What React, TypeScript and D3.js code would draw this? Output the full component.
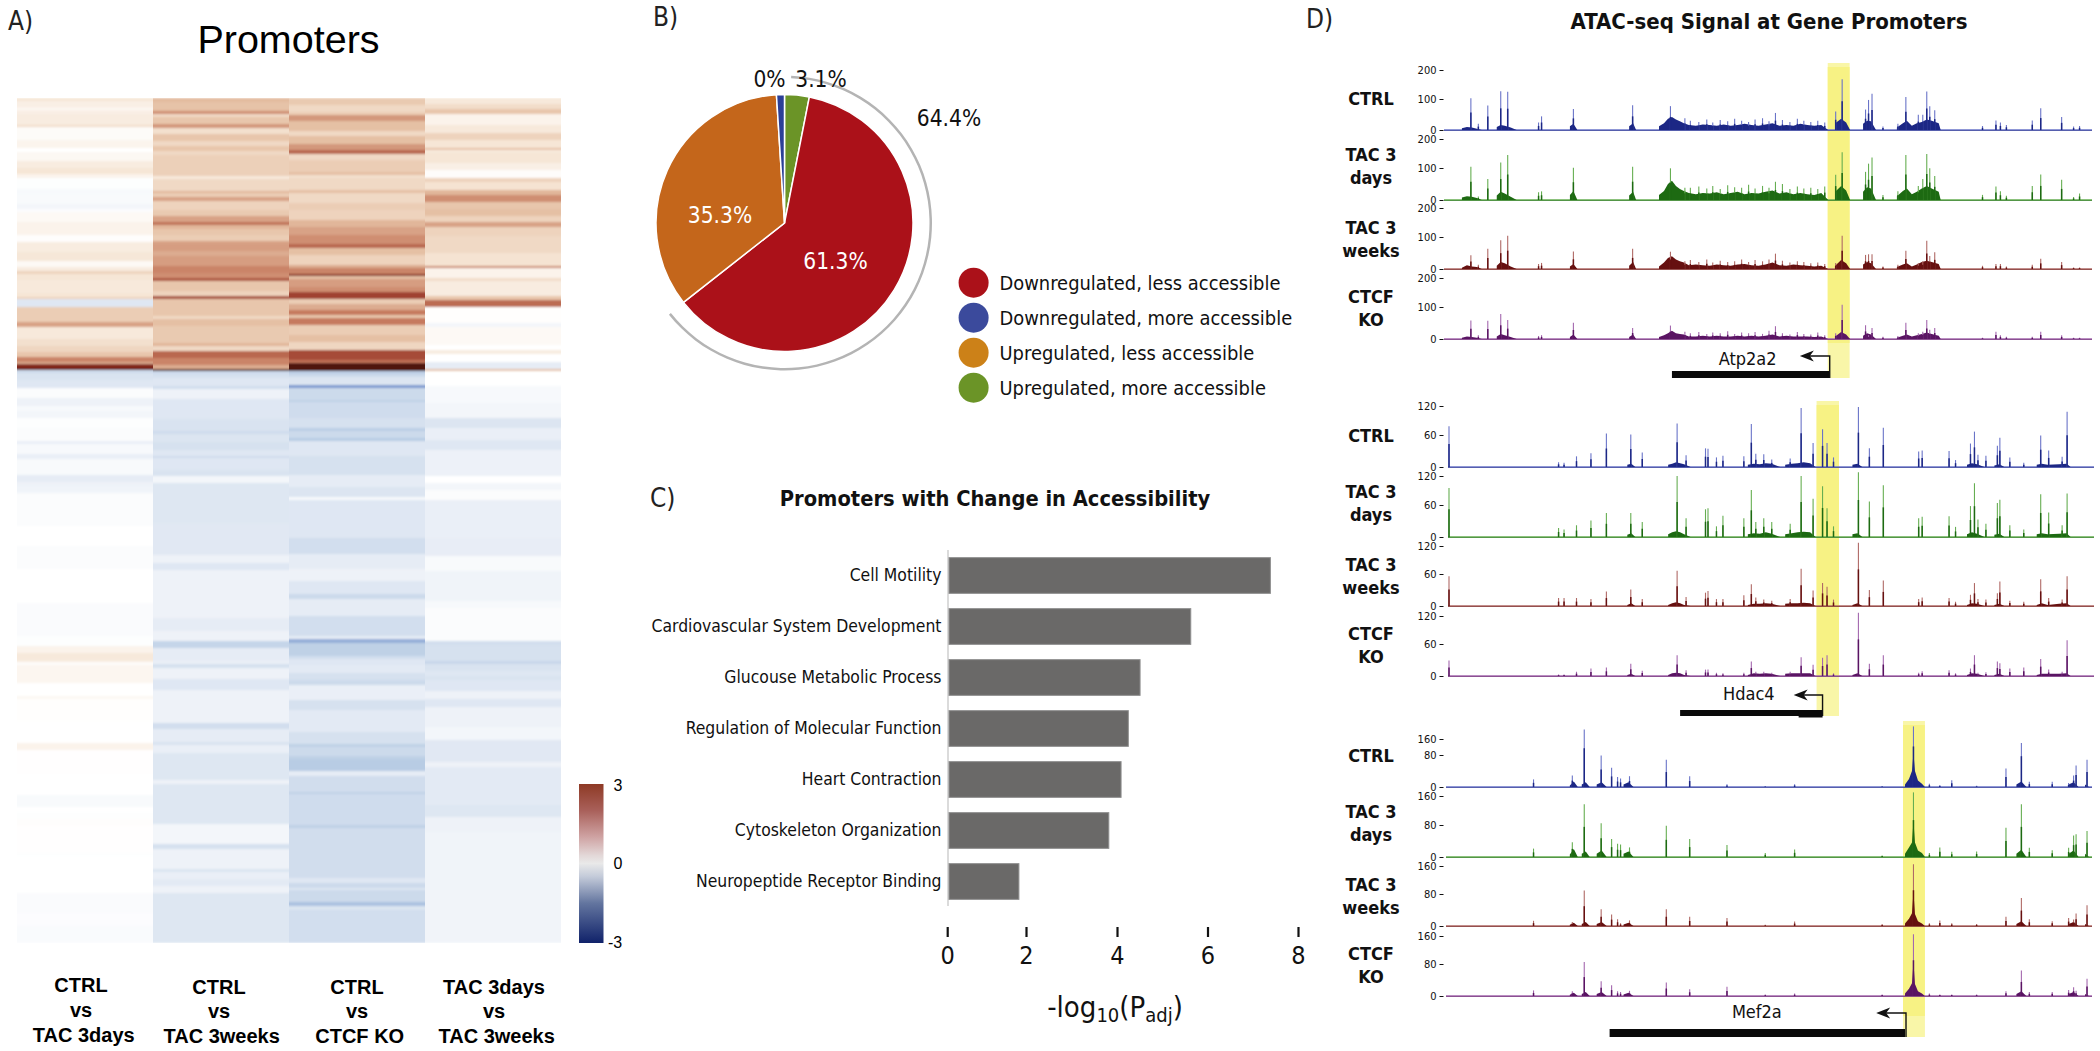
import React, { useEffect, useRef } from 'react';
import * as d3 from 'd3';

// Panel A: heatmap columns, each as runs of [row count, log2 fold change]
const heatLabels = [
  ['CTRL', 'vs', 'TAC 3days'],
  ['CTRL', 'vs', 'TAC 3weeks'],
  ['CTRL', 'vs', 'CTCF KO'],
  ['TAC 3days', 'vs', 'TAC 3weeks'],
];
const heatCtrlTac3d = [
  [3, .4], [7, .25], [2, .1], [4, .25], [11, .3], [2, .55], [13, .07], [8, .18], [4, 0], [9, .12], [7, .3], [6, .4], [4, .2], [11, -.02], [5, -.1], [10, -.08], [5, -.15], [3, -.04], [10, .1], [13, .2],
  [7, .03], [10, .3], [9, .38], [6, .1], [4, .3], [3, .7], [6, .4], [13, .35], [4, .4], [2, .7], [8, -.4], [15, .8], [5, 1.3], [12, .35], [7, .5], [6, .65], [5, .9], [5, 1.6], [2, 1.2], [4, 2.6], [2, 2.8],
  [3, -.7], [7, -.5], [8, -.4], [10, -.05], [8, -.2], [5, -.1], [7, -.15], [10, -.02], [13, -.05], [3, -.25], [10, -.1], [5, -.25], [16, -.08], [7, -.3], [4, -.2], [7, -.18], [33, -.05], [10, 0], [10, 0], [23, -.05], [17, 0], [17, 0], [33, -.06], [10, -.02], [7, .2], [7, .35],
  [2, .3], [3, .05], [18, .15], [13, 0], [3, .12], [22, .02], [22, 0], [7, .2], [25, .01], [20, 0], [12, -.08], [5, 0], [7, -.02], [7, .03], [27, .01], [3, -.02], [17, 0], [20, 0], [20, -.06], [13, -.04], [17, -.07],
];
const heatCtrlTac3w = [
  [4, 1.05], [7, .95], [2, 1], [3, 1.5], [3, .6], [7, .9], [4, 1.4], [6, .5], [7, .9], [5, .6], [5, .9], [4, .6], [21, .75], [3, .35], [12, .6], [2, 1.1], [4, .8], [4, 1.3], [9, .7], [6, .85], [6, 1.3], [3, 1.8], [4, 1.1], [6, .9],
  [5, .8], [3, 1.3], [7, 1.35], [5, 1.2], [10, 1.35], [7, 1.6], [5, 1.5], [3, 2.1], [10, .9], [5, .7], [3, 2.2], [5, .9], [12, .9], [3, .6], [7, 1], [17, .85], [3, 1.1], [5, .6], [7, 1.9], [7, 1.6], [4, 1.2], [2, 3],
  [3, -.7], [4, -.55], [8, -.4], [3, -.6], [10, -.2], [20, -.4], [12, -.5], [3, -.65], [8, -.45], [8, -.55], [6, -.4], [2, -.65], [12, -.4], [6, -.5], [7, -.15], [17, -.42], [22, -.42], [32, -.38], [8, -.2], [7, -.4], [8, -.2], [40, -.2], [13, -.3], [10, -.2], [7, -.8], [13, -.3],
  [3, -.25], [4, -.55], [11, -.2], [11, -.4], [33, -.2], [6, -.6], [13, -.3], [3, -.5], [8, -.25], [27, -.42], [4, -.2], [39, -.42], [20, -.15], [5, -.55], [20, -.2], [3, -.45], [7, -.25], [7, -.35], [7, -.2], [50, -.42],
];
const heatCtrlKo = [
  [7, .85], [7, .6], [3, .8], [6, 1.4], [10, 1], [5, .6], [8, 1], [6, 1.4], [4, 1.9], [6, .6], [12, .8], [3, 1], [3, .5], [12, .6], [3, 1], [10, .6], [7, .8], [10, .7], [7, 1.1], [8, 1.3],
  [8, 1.5], [4, 1.9], [7, 1], [10, .7], [3, 1.2], [6, 1.6], [2, 2.6], [3, 1], [8, 1.35], [5, 1.5], [7, 2.3], [5, .8], [6, 1.2], [5, 1.7], [3, .9], [7, 1.7], [10, .8], [7, 1], [8, .65], [10, 2.2], [3, 1.8], [8, 3],
  [3, -.95], [3, -.7], [8, -.45], [3, -1.5], [12, -.7], [2, -.9], [16, -.65], [10, -.55], [3, -.95], [7, -.7], [3, -1], [15, -.4], [19, -.55], [12, -.3], [10, -.45], [3, -.1], [37, -.4], [8, -.6], [8, -.6], [15, -.3], [12, -.2], [13, -.4], [5, -.7], [17, -.3], [20, -.6], [3, -.3], [4, -1.3], [13, -.9], [3, -.6],
  [6, -.4], [8, -.35], [7, -.55], [5, -.7], [15, -.25], [10, -.55], [22, -.35], [12, -.55], [3, -.9], [9, -.7], [3, -.9], [12, -1], [5, -.3], [16, -.62], [2, -.9], [13, -.65], [17, -.65], [3, -.9], [50, -.62], [5, -.4], [5, -.7], [2, -.4], [12, -.7], [4, -1.1], [4, -.45], [14, -.6], [19, -.6],
];
const heatTac3dTac3w = [
  [6, .35], [5, .55], [5, .9], [11, .2], [8, .35], [7, .7], [8, .4], [2, 1], [2, .3], [11, .4], [7, .25], [8, .05], [4, .7], [8, .45], [5, 1.1], [7, 1.5], [7, .9], [7, 1], [6, .7], [5, 1.3], [9, .7],
  [4, .6], [13, .6], [13, .45], [2, 1.6], [10, .2], [3, .55], [15, .3], [4, .9], [7, 1.85], [16, .02], [4, -.15], [18, .1], [5, 0], [4, .3], [8, 0], [7, -.3], [2, 1],
  [15, 0], [17, -.1], [15, -.15], [10, -.45], [12, -.25], [10, -.4], [26, -.22], [7, 0], [7, -.15], [10, -.05], [37, -.25], [18, -.28], [15, -.08], [30, -.18], [7, -.1], [33, -.05], [4, -.6], [16, -.55],
  [3, -.75], [7, -.5], [5, -.4], [4, -.5], [11, -.4], [8, -.2], [8, -.4], [20, -.2], [13, -.15], [22, -.38], [5, -.2], [38, -.35], [12, -.42], [15, -.2], [57, -.18], [54, -.17],
];
const heatColumns = [heatCtrlTac3d, heatCtrlTac3w, heatCtrlKo, heatTac3dTac3w];
const heatStops = [-3, -1.6, -1, -.3, 0, .4, 1, 1.7, 2.5, 3];
const heatColors = ['#0d2168', '#6f8fcb', '#b8cce4', '#e6ecf5', '#ffffff', '#f6e6d6', '#e5c0a4', '#c67a5e', '#933120', '#4f1710'];
const legendTicks = [3, 0, -3];
const legendStops = [3, 2, 1, .3, 0, -.5, -1.5, -3];
const legendColors = ['#8e3a25', '#a9605a', '#cfa3a3', '#e3d8d8', '#e9e9e9', '#c3cad9', '#63759f', '#10226a'];

// Panel B
const pieNames = ['Upregulated, more accessible', 'Downregulated, less accessible', 'Upregulated, less accessible', 'Downregulated, more accessible'];
const pieDrawn = [3.1, 61.3, 34.6, 1];
const pieColors = ['#6b9427', '#ab1119', '#c4661b', '#2b3f96'];
const legendNames = ['Downregulated, less accessible', 'Downregulated, more accessible', 'Upregulated, less accessible', 'Upregulated, more accessible'];
const legendDots = ['#ab1119', '#3b4a9c', '#cc8118', '#6b9427'];
const downTotal = 64.4;

// Panel C
const terms = ['Cell Motility', 'Cardiovascular System Development', 'Glucouse Metabolic Process', 'Regulation of Molecular Function', 'Heart Contraction', 'Cytoskeleton Organization', 'Neuropeptide Receptor Binding'];
const termValues = [7.39, 5.63, 4.51, 4.25, 4.09, 3.82, 1.82];
const termTicks = [0, 2, 4, 6, 8];

// Panel D: peak positions and heights, one height list per condition
const trackNames = [['CTRL'], ['TAC 3', 'days'], ['TAC 3', 'weeks'], ['CTCF', 'KO']];
const trackNameLift = [25, 39, 35, 36];
const trackDark = ['#1c2785', '#1d6a12', '#661010', '#5a1463'];
const trackLight = ['#6a74c8', '#66ae52', '#b06a66', '#a468ae'];

const atpPos = [304, 319, 338, 364, 378, 440, 446, 510, 629, 705, 734, 916, 1037, 1050, 1097, 1103, 1110, 1132, 1162, 1178, 1203, 1212, 1220, 1226, 1236, 1332, 1359, 1368, 1380, 1432, 1449, 1491, 1515, 1527, 745, 762, 778, 790, 805, 820, 834, 848, 862, 875, 890, 903, 930, 945, 960, 973, 987, 1001, 1015];
const atpCtrl = [103, 20, 79, 127, 125, 24, 44, 68, 80, 77, 38, 55, 60, 168, 66, 97, 118, 11, 20, 107, 49, 49, 126, 77, 64, 13, 31, 24, 16, 31, 70, 42, 11, 13, 30, 26, 34, 24, 32, 28, 36, 30, 26, 34, 38, 28, 32, 26, 36, 30, 26, 30, 24];
const atpTac3d = [104, 11, 66, 119, 145, 24, 27, 101, 104, 99, 38, 57, 79, 154, 88, 115, 136, 16, 27, 145, 44, 66, 148, 99, 75, 16, 42, 27, 13, 44, 80, 63, 9, 20, 38, 42, 36, 44, 34, 46, 40, 38, 48, 36, 44, 38, 50, 34, 42, 36, 38, 34, 42];
const atpTac3w = [43, 13, 63, 90, 104, 16, 19, 55, 63, 54, 24, 48, 19, 104, 44, 46, 46, 8, 13, 57, 19, 24, 88, 41, 52, 10, 16, 16, 8, 13, 32, 22, 5, 5, 28, 22, 30, 20, 26, 22, 24, 30, 22, 28, 24, 30, 26, 20, 24, 22, 18, 20, 16];
const atpKo = [58, 12, 57, 78, 59, 9, 12, 51, 34, 42, 23, 40, 18, 108, 43, 12, 34, 7, 9, 51, 18, 23, 59, 29, 34, 4, 23, 12, 7, 7, 23, 12, 4, 4, 18, 22, 16, 20, 18, 24, 16, 20, 18, 22, 16, 26, 18, 14, 22, 16, 14, 20, 12];
const atpMoundPos = [286, 296, 306, 316, 326, 356, 364, 372, 384, 396, 503, 510, 518, 622, 630, 636, 682, 692, 700, 708, 716, 724, 732, 742, 756, 770, 784, 798, 812, 826, 840, 854, 868, 882, 896, 910, 924, 938, 952, 966, 980, 994, 1008, 1022, 1036, 1048, 1058, 1066, 1092, 1100, 1108, 1118, 1160, 1172, 1180, 1190, 1200, 1210, 1220, 1230, 1244, 1248];
const atpMoundCtrl = [6, 10, 8, 4, 0, 10, 16, 14, 8, 0, 12, 20, 0, 12, 22, 0, 12, 22, 36, 42, 34, 28, 22, 16, 14, 18, 16, 14, 18, 14, 16, 20, 16, 14, 18, 22, 14, 16, 14, 20, 16, 14, 16, 0, 22, 36, 24, 0, 20, 30, 28, 0, 8, 22, 30, 14, 22, 26, 34, 30, 22, 0];
const atpMoundTac3d = [8, 12, 10, 6, 0, 14, 26, 20, 10, 0, 16, 28, 0, 14, 26, 0, 16, 28, 50, 60, 44, 34, 28, 22, 18, 22, 20, 24, 18, 22, 26, 18, 22, 20, 26, 30, 20, 24, 18, 22, 18, 16, 22, 0, 26, 44, 30, 0, 26, 40, 36, 0, 12, 28, 36, 18, 26, 36, 44, 36, 26, 0];
const atpMoundTac3w = [4, 12, 8, 6, 0, 10, 22, 18, 8, 0, 8, 16, 0, 10, 22, 0, 8, 20, 34, 40, 30, 24, 20, 12, 14, 12, 10, 14, 12, 10, 14, 16, 12, 10, 14, 20, 12, 10, 14, 12, 10, 8, 10, 0, 10, 28, 18, 0, 14, 22, 18, 0, 6, 14, 18, 8, 14, 22, 26, 22, 16, 0];
const atpMoundKo = [4, 8, 6, 4, 0, 8, 16, 12, 6, 0, 6, 14, 0, 6, 14, 0, 6, 12, 18, 26, 18, 16, 14, 8, 8, 10, 8, 10, 8, 8, 10, 8, 10, 8, 10, 14, 8, 10, 8, 8, 8, 6, 8, 0, 8, 22, 14, 0, 10, 18, 14, 0, 4, 10, 14, 8, 12, 16, 20, 16, 10, 0];

const hdacPos = [260, 480, 491, 516, 545, 576, 625, 648, 718, 736, 775, 780, 797, 810, 852, 867, 876, 892, 908, 945, 967, 991, 1010, 1019, 1032, 1082, 1104, 1132, 1203, 1210, 1264, 1277, 1307, 1315, 1322, 1338, 1361, 1366, 1386, 1414, 1448, 1464, 1491, 1501];
const hdacCtrl = [78, 9, 8, 20, 26, 63, 61, 27, 84, 22, 35, 34, 18, 21, 20, 83, 25, 24, 14, 16, 116, 45, 72, 45, 18, 118, 35, 75, 29, 31, 30, 13, 44, 67, 23, 21, 40, 55, 18, 8, 59, 31, 19, 108];
const hdacTac3d = [95, 17, 14, 22, 31, 45, 45, 28, 120, 35, 52, 54, 20, 40, 35, 91, 28, 35, 28, 25, 120, 73, 99, 54, 20, 128, 67, 101, 35, 38, 39, 19, 58, 105, 33, 25, 64, 71, 22, 14, 82, 46, 22, 84];
const hdacTac3w = [56, 15, 15, 15, 13, 27, 31, 13, 67, 17, 25, 28, 13, 13, 20, 41, 16, 12, 10, 13, 71, 29, 43, 36, 12, 127, 30, 48, 13, 16, 15, 8, 21, 43, 13, 12, 24, 46, 10, 8, 50, 15, 12, 56];
const hdacKo = [29, 3, 3, 8, 14, 16, 23, 10, 39, 11, 12, 12, 6, 5, 6, 27, 8, 8, 6, 8, 35, 21, 34, 39, 5, 127, 23, 39, 6, 9, 11, 5, 14, 39, 6, 7, 27, 24, 14, 16, 32, 12, 8, 68];
const hdacMoundPos = [618, 626, 634, 700, 708, 716, 724, 732, 745, 860, 872, 884, 896, 908, 925, 935, 948, 960, 972, 985, 996, 1070, 1080, 1090, 1300, 1310, 1320, 1335, 1355, 1365, 1375, 1440, 1450, 1462, 1485, 1500, 1508];
const hdacMoundCtrl = [4, 6, 0, 4, 6, 9, 7, 5, 0, 4, 6, 5, 7, 6, 0, 4, 6, 7, 9, 7, 0, 4, 6, 0, 4, 7, 5, 0, 3, 5, 0, 4, 6, 4, 5, 6, 0];
const hdacMoundTac3d = [4, 7, 0, 5, 9, 11, 9, 5, 0, 5, 7, 6, 9, 6, 0, 5, 7, 9, 10, 9, 0, 5, 7, 0, 5, 9, 6, 0, 4, 6, 0, 5, 7, 5, 6, 7, 0];
const hdacMoundTac3w = [2, 5, 0, 2, 5, 7, 5, 2, 0, 2, 4, 4, 5, 4, 0, 4, 5, 5, 6, 5, 0, 2, 5, 0, 2, 5, 4, 0, 2, 4, 0, 2, 5, 2, 4, 5, 0];
const hdacMoundKo = [2, 4, 0, 2, 5, 6, 5, 2, 0, 2, 5, 4, 5, 4, 0, 4, 5, 5, 5, 5, 0, 2, 5, 0, 2, 5, 4, 0, 2, 4, 0, 2, 4, 4, 4, 5, 0];

const mefPos = [429, 507, 531, 565, 586, 598, 604, 622, 696, 743, 818, 895, 954, 1130, 1193, 1225, 1246, 1270, 1320, 1379, 1410, 1426, 1472, 1505, 1515, 1520, 1542];
const mefCtrl = [19, 29, 207, 79, 48, 25, 21, 27, 68, 27, 7, 2, 7, 2, 223, 8, 5, 17, 3, 46, 140, 13, 13, 10, 29, 54, 68];
const mefTac3d = [21, 37, 137, 85, 45, 33, 31, 24, 78, 45, 30, 10, 19, 4, 170, 10, 24, 13, 14, 73, 137, 23, 17, 23, 54, 57, 65];
const mefTac3w = [13, 10, 90, 42, 29, 17, 7, 14, 42, 23, 20, 3, 11, 5, 165, 7, 14, 7, 5, 23, 70, 17, 12, 20, 16, 31, 52];
const mefKo = [14, 12, 86, 37, 27, 12, 10, 13, 34, 17, 23, 4, 6, 4, 165, 6, 4, 4, 4, 12, 64, 10, 10, 15, 22, 13, 43];
const mefMoundPos = [502, 510, 518, 526, 534, 542, 556, 566, 576, 610, 620, 630, 1176, 1184, 1190, 1193, 1196, 1202, 1210, 1216, 1400, 1410, 1420, 1505, 1515, 1525, 1538, 1546];
const mefMoundCtrl = [4, 14, 0, 6, 12, 0, 6, 12, 0, 6, 12, 0, 6, 20, 40, 90, 40, 16, 8, 0, 6, 14, 0, 6, 12, 0, 6, 0];
const mefMoundTac3d = [6, 20, 0, 8, 14, 0, 8, 16, 0, 8, 14, 0, 8, 24, 36, 90, 36, 16, 10, 0, 8, 18, 0, 8, 16, 0, 8, 0];
const mefMoundTac3w = [3, 8, 0, 5, 10, 0, 5, 10, 0, 4, 8, 0, 6, 18, 32, 85, 30, 12, 6, 0, 5, 12, 0, 5, 10, 0, 5, 0];
const mefMoundKo = [3, 8, 0, 5, 10, 0, 5, 10, 0, 4, 8, 0, 6, 18, 32, 85, 30, 12, 6, 0, 5, 12, 0, 5, 10, 0, 5, 0];

const genes = [
  {
    name: 'Atp2a2', pos: atpPos, peaks: [atpCtrl, atpTac3d, atpTac3w, atpKo],
    moundPos: atpMoundPos, mounds: [atpMoundCtrl, atpMoundTac3d, atpMoundTac3w, atpMoundKo],
    domain: [250, 1552], range: [1444, 2092], ticks: [0, 100, 200], bases: [130, 200, 269, 339],
    tickPx: [[0, 31, 60], [0, 32, 61], [0, 32, 61], [0, 32, 61]],
    band: [1021, 1065], bandY: [63, 343, 378], body: [708, 1025], bodyY: [371, 378], tss: 1025, arrowTo: 965, arrowY: 356,
    labelPos: 860, labelY: 365,
  },
  {
    name: 'Hdac4', pos: hdacPos, peaks: [hdacCtrl, hdacTac3d, hdacTac3w, hdacKo],
    moundPos: hdacMoundPos, mounds: [hdacMoundCtrl, hdacMoundTac3d, hdacMoundTac3w, hdacMoundKo],
    domain: [258, 1555], range: [1448, 2094], ticks: [0, 60, 120], bases: [467, 537, 606, 676],
    tickPx: [[0, 32, 61], [0, 32, 61], [0, 32, 60], [0, 32, 60]],
    band: [998, 1043], bandY: [401, 676, 716], body: [724, 1010], bodyY: [710, 716], thick: [962, 1010], tss: 1010, arrowTo: 952, arrowY: 695,
    labelPos: 862, labelY: 700,
  },
  {
    name: 'Mef2a', pos: mefPos, peaks: [mefCtrl, mefTac3d, mefTac3w, mefKo],
    moundPos: mefMoundPos, mounds: [mefMoundCtrl, mefMoundTac3d, mefMoundTac3w, mefMoundKo],
    domain: [253, 1552], range: [1446, 2092], ticks: [0, 80, 160], bases: [787, 857, 926, 996],
    tickPx: [[0, 32, 48], [0, 32, 61], [0, 32, 60], [0, 32, 60]],
    band: [1172, 1216], bandY: [721, 1016, 1037], body: [582, 1176], bodyY: [1029, 1037], tss: 1178, arrowTo: 1118, arrowY: 1013,
    labelPos: 878, labelY: 1018,
  },
];

const sansFont = "'DejaVu Sans Condensed', 'DejaVu Sans', sans-serif";
const arialFont = "'Liberation Sans', Arial, sans-serif";

function drawHeatmap(svg) {
  const x = d3.scaleBand().domain(d3.range(4)).range([17, 561]);
  const color = d3.scaleLinear().domain(heatStops).range(heatColors).clamp(true);

  // the stripes in the figure are soft, so blur along y only
  const defs = svg.append('defs');
  defs.append('filter').attr('id', 'heatSoft')
    .attr('filterUnits', 'userSpaceOnUse')
    .attr('x', 0).attr('y', 90).attr('width', 600).attr('height', 860)
    .append('feGaussianBlur').attr('stdDeviation', '0 0.9');
  defs.append('clipPath').attr('id', 'heatClip').append('rect')
    .attr('x', 17).attr('y', 98).attr('width', 544).attr('height', 845);

  const heat = svg.append('g').attr('clip-path', 'url(#heatClip)').append('g').attr('filter', 'url(#heatSoft)');
  heatColumns.forEach((runs, c) => {
    const total = d3.sum(runs, d => d[0]);
    const y = d3.scaleLinear().domain([0, total]).range([98, 943]);
    let row = 0;
    const cells = runs.map(d => {
      const cell = { from: row, to: row + d[0], value: d[1] };
      row += d[0];
      return cell;
    });
    heat.append('g').selectAll('rect').data(cells).enter().append('rect')
      .attr('x', x(c))
      .attr('width', x.bandwidth())
      .attr('y', d => y(d.from))
      .attr('height', d => y(d.to) - y(d.from))
      .attr('fill', d => color(d.value))
      .attr('shape-rendering', 'crispEdges');
  });

  // column captions
  const baselines = [[992, 1016.5, 1041.5], [993.5, 1018, 1043], [993.5, 1018, 1043], [993.5, 1018, 1043]];
  const centers = [81, 219, 357, 494];
  const lineShift = [0, 0, 2.7];
  heatLabels.forEach((lines, c) => {
    lines.forEach((line, i) => {
      svg.append('text').text(line)
        .attr('x', centers[c] + lineShift[i]).attr('y', baselines[c][i])
        .attr('text-anchor', 'middle')
        .attr('font-family', arialFont).attr('font-weight', 700).attr('font-size', 20);
    });
  });

  // colour legend
  const legendY = d3.scaleLinear().domain([3, -3]).range([784, 943]);
  const grad = defs.append('linearGradient').attr('id', 'heatLegend').attr('x1', 0).attr('x2', 0).attr('y1', 0).attr('y2', 1);
  legendStops.forEach((v, i) => {
    grad.append('stop').attr('offset', (legendY(v) - 784) / 159).attr('stop-color', legendColors[i]);
  });
  svg.append('rect').attr('x', 579).attr('y', 784).attr('width', 24.5).attr('height', 159).attr('fill', 'url(#heatLegend)');
  const legendOffset = [7, 5, 5];
  legendTicks.forEach((v, i) => {
    svg.append('text').text(v)
      .attr('x', v < 0 ? 615 : 618).attr('y', legendY(v) + legendOffset[i])
      .attr('text-anchor', 'middle')
      .attr('font-family', arialFont).attr('font-size', 16);
  });

  svg.append('text').text('Promoters')
    .attr('x', 288.5).attr('y', 53).attr('text-anchor', 'middle')
    .attr('font-family', arialFont).attr('font-size', 39.5);
}

function drawPie(svg) {
  const g = svg.append('g').attr('transform', 'translate(784.5,223)');
  const radius = 128.5;
  const arcs = d3.pie().sort(null)(pieDrawn);
  const arc = d3.arc().innerRadius(0).outerRadius(radius);
  g.selectAll('path.slice').data(arcs).enter().append('path')
    .attr('class', 'slice')
    .attr('d', arc)
    .attr('fill', (d, i) => pieColors[i])
    .attr('stroke', '#fff')
    .attr('stroke-width', 1.5)
    .append('title').text((d, i) => pieNames[i]);

  // bracket round the downregulated share
  const start = 2.6 * Math.PI / 180;
  g.append('path')
    .attr('d', d3.arc()({
      innerRadius: 145, outerRadius: 147.5,
      startAngle: start, endAngle: start + (downTotal / 100) * 2 * Math.PI - 0.05,
    }))
    .attr('fill', '#b4b4b4');

  const labels = [
    { t: '0%', x: 769.5, y: 87, fill: '#111' },
    { t: '3.1%', x: 821, y: 87, fill: '#111' },
    { t: '64.4%', x: 949, y: 126, fill: '#111' },
    { t: '35.3%', x: 720, y: 222.5, fill: '#fff' },
    { t: '61.3%', x: 835.5, y: 269, fill: '#fff' },
  ];
  svg.append('g').selectAll('text').data(labels).enter().append('text')
    .text(d => d.t)
    .attr('x', d => d.x).attr('y', d => d.y)
    .attr('text-anchor', 'middle')
    .attr('fill', d => d.fill)
    .attr('font-family', sansFont).attr('font-size', 22.5);

  const rowY = d3.scalePoint().domain(legendNames).range([282.7, 387.7]);
  const legend = svg.append('g').selectAll('g').data(legendNames).enter().append('g')
    .attr('transform', d => `translate(0,${rowY(d)})`);
  legend.append('circle').attr('cx', 973.6).attr('r', 15).attr('fill', (d, i) => legendDots[i]);
  legend.append('text').text(d => d)
    .attr('x', 999.5).attr('y', 7)
    .attr('font-family', sansFont).attr('font-size', 19.9).attr('fill', '#111');
}

function drawBars(svg) {
  // tick spacing in the original axis is uneven, so the scale is piecewise
  const x = d3.scaleLinear().domain(termTicks).range([947.2, 1026, 1117, 1207.5, 1298]);
  const y = d3.scaleBand().domain(terms).range([550, 907]).paddingInner(0.3).paddingOuter(0.15);

  svg.append('line')
    .attr('x1', 948).attr('x2', 948).attr('y1', 550).attr('y2', 906)
    .attr('stroke', '#cfcfcf').attr('stroke-width', 1.5);

  svg.append('g').selectAll('rect').data(terms).enter().append('rect')
    .attr('x', 949)
    .attr('y', d => y(d))
    .attr('width', (d, i) => x(termValues[i]) - 949)
    .attr('height', y.bandwidth())
    .attr('fill', '#6a6968')
    .attr('stroke', '#8f8f8f')
    .attr('stroke-width', 1);

  svg.append('g').selectAll('text').data(terms).enter().append('text')
    .text(d => d)
    .attr('x', 941.5)
    .attr('y', d => y(d) + y.bandwidth() / 2 + 5)
    .attr('text-anchor', 'end')
    .attr('font-family', sansFont).attr('font-size', 17.4).attr('fill', '#111');

  const axis = svg.append('g').attr('transform', 'translate(0,927)')
    .call(d3.axisBottom(x).tickValues(termTicks).tickSize(10).tickPadding(9).tickFormat(d3.format('d')));
  axis.select('.domain').remove();
  axis.selectAll('line').attr('stroke', '#111').attr('stroke-width', 2.2);
  axis.selectAll('text').attr('font-family', sansFont).attr('font-size', 25).attr('fill', '#111');

  const label = svg.append('text')
    .attr('x', 1115).attr('y', 1017).attr('text-anchor', 'middle')
    .attr('font-family', sansFont).attr('font-size', 29).attr('fill', '#111');
  label.append('tspan').text('-log');
  label.append('tspan').text('10').attr('font-size', 20).attr('dy', 5);
  label.append('tspan').text('(P').attr('dy', -5);
  label.append('tspan').text('adj').attr('font-size', 20).attr('dy', 5);
  label.append('tspan').text(')').attr('dy', -5);

  svg.append('text').text('Promoters with Change in Accessibility')
    .attr('x', 995).attr('y', 506).attr('text-anchor', 'middle')
    .attr('font-family', sansFont).attr('font-weight', 700).attr('font-size', 21.7).attr('fill', '#111');
}

function drawGene(svg, gene) {
  const x = d3.scaleLinear().domain(gene.domain).range(gene.range);

  // promoter highlight goes under the tracks
  const bandX = x(gene.band[0]);
  const bandW = x(gene.band[1]) - bandX;
  svg.append('rect').attr('x', bandX).attr('width', bandW)
    .attr('y', gene.bandY[0]).attr('height', gene.bandY[2] - gene.bandY[0]).attr('fill', '#f9f6a8');
  svg.append('rect').attr('x', bandX).attr('width', bandW)
    .attr('y', gene.bandY[0] + 4).attr('height', gene.bandY[1] - gene.bandY[0] - 4).attr('fill', '#f7f284');

  gene.peaks.forEach((heights, t) => {
    const base = gene.bases[t];
    const y = d3.scaleLinear().domain(gene.ticks).range(gene.tickPx[t].map(px => base - px));
    const track = svg.append('g');

    track.append('line')
      .attr('x1', gene.range[0]).attr('x2', gene.range[1])
      .attr('y1', base).attr('y2', base)
      .attr('stroke', trackLight[t]).attr('stroke-width', 1.6);

    // runs of the mound list are separated by zeros
    const moundPoints = [];
    gene.moundPos.forEach((p, i) => {
      const h = gene.mounds[t][i] ?? 0;
      if (i > 0 && (gene.mounds[t][i - 1] ?? 0) === 0) moundPoints.push([p, 0]);
      moundPoints.push([p, h]);
    });
    const mound = d3.area().x(d => x(d[0])).y0(base).y1(d => y(d[1]));
    track.append('path')
      .attr('d', mound(moundPoints))
      .attr('fill', trackDark[t]);

    const peaks = gene.pos.map((p, i) => ({ p, h: heights[i] }));
    track.selectAll('line.tip').data(peaks).enter().append('line')
      .attr('class', 'tip')
      .attr('x1', d => x(d.p)).attr('x2', d => x(d.p))
      .attr('y1', base).attr('y2', d => y(d.h))
      .attr('stroke', trackLight[t]).attr('stroke-width', 1.1);
    track.selectAll('line.core').data(peaks).enter().append('line')
      .attr('class', 'core')
      .attr('x1', d => x(d.p)).attr('x2', d => x(d.p))
      .attr('y1', base).attr('y2', d => y(d.h * 0.55))
      .attr('stroke', trackDark[t]).attr('stroke-width', 1.5);

    track.append('line')
      .attr('x1', gene.range[0]).attr('x2', gene.range[1])
      .attr('y1', base + 0.5).attr('y2', base + 0.5)
      .attr('stroke', trackDark[t]).attr('stroke-width', 0.5);

    const axis = svg.append('g').attr('transform', 'translate(1443.5,0)')
      .call(d3.axisLeft(y).tickValues(gene.ticks).tickSize(4).tickPadding(3));
    axis.select('.domain').remove();
    axis.selectAll('line').attr('stroke', '#111');
    axis.selectAll('text').attr('font-family', sansFont).attr('font-size', 11).attr('fill', '#111');

    trackNames[t].forEach((line, i) => {
      svg.append('text').text(line)
        .attr('x', 1371).attr('y', base - trackNameLift[t] + i * 23)
        .attr('text-anchor', 'middle')
        .attr('font-family', sansFont).attr('font-weight', 700).attr('font-size', 18).attr('fill', '#111');
    });
  });

  // gene model with the TSS arrow
  svg.append('rect')
    .attr('x', x(gene.body[0])).attr('width', x(gene.body[1]) - x(gene.body[0]))
    .attr('y', gene.bodyY[0]).attr('height', gene.bodyY[1] - gene.bodyY[0])
    .attr('fill', '#0a0a0a');
  if (gene.thick) {
    svg.append('rect')
      .attr('x', x(gene.thick[0])).attr('width', x(gene.thick[1]) - x(gene.thick[0]))
      .attr('y', gene.bodyY[0]).attr('height', gene.bodyY[1] - gene.bodyY[0] + 1.5)
      .attr('fill', '#0a0a0a');
  }
  const tss = x(gene.tss);
  const tip = x(gene.arrowTo);
  svg.append('path')
    .attr('d', d3.line()([[tss, gene.bodyY[1]], [tss, gene.arrowY], [tip + 6, gene.arrowY]]))
    .attr('fill', 'none').attr('stroke', '#111').attr('stroke-width', 1.4);
  svg.append('path')
    .attr('d', d3.line()([[tip, gene.arrowY], [tip + 14, gene.arrowY - 5.5], [tip + 10, gene.arrowY], [tip + 14, gene.arrowY + 5.5]]) + 'Z')
    .attr('fill', '#111');
  svg.append('text').text(gene.name)
    .attr('x', x(gene.labelPos)).attr('y', gene.labelY)
    .attr('text-anchor', 'middle')
    .attr('font-family', sansFont).attr('font-size', 18).attr('fill', '#111');
}

export default function App() {
  const ref = useRef(null);

  useEffect(() => {
    const svg = d3.select(ref.current);
    svg.selectAll('*').remove();

    drawHeatmap(svg);
    drawPie(svg);
    drawBars(svg);
    genes.forEach(gene => drawGene(svg, gene));

    svg.append('text').text('ATAC-seq Signal at Gene Promoters')
      .attr('x', 1769).attr('y', 29).attr('text-anchor', 'middle')
      .attr('font-family', sansFont).attr('font-weight', 700).attr('font-size', 22).attr('fill', '#111');

    const panels = [
      { t: 'A)', x: 8, y: 30 },
      { t: 'B)', x: 653, y: 26 },
      { t: 'C)', x: 650, y: 507 },
      { t: 'D)', x: 1306, y: 28 },
    ];
    svg.append('g').selectAll('text').data(panels).enter().append('text')
      .text(d => d.t)
      .attr('x', d => d.x).attr('y', d => d.y)
      .attr('font-family', sansFont).attr('font-size', 26).attr('fill', '#222');
  }, []);

  return (
    <svg
      ref={ref}
      width={2100}
      height={1051}
      style={{ position: 'absolute', left: 0, top: 0, display: 'block', background: '#fff' }}
    />
  );
}
